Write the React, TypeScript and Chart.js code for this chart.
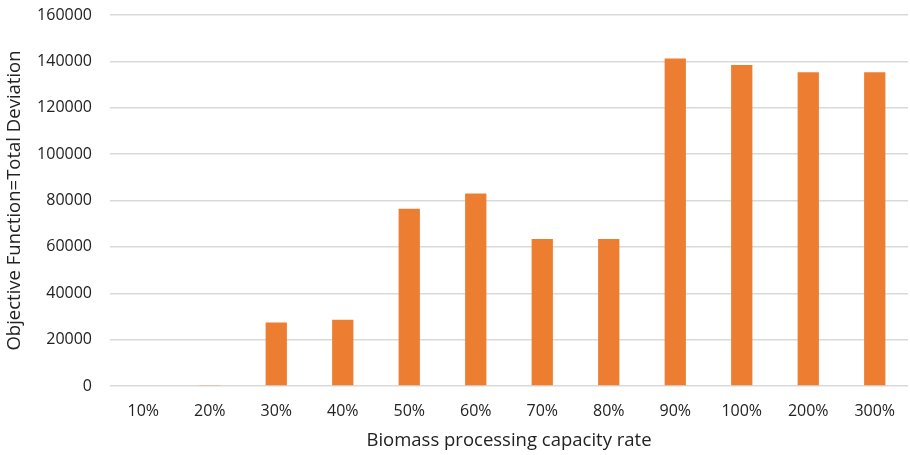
import React, { useEffect, useRef } from "react";
import { Chart, registerables } from "chart.js";

Chart.register(...registerables);

const categories = ["10%", "20%", "30%", "40%", "50%", "60%", "70%", "80%", "90%", "100%", "200%", "300%"];
const values = [0, 400, 27400, 28600, 76400, 83000, 63400, 63400, 141200, 138400, 135300, 135300];
const yTicks = [0, 20000, 40000, 60000, 80000, 100000, 120000, 140000, 160000];

export default function App() {
  const ref = useRef<HTMLCanvasElement | null>(null);
  useEffect(() => {
    document.body.style.margin = "0";
    const ctx = ref.current!;
    const chart = new Chart(ctx, {
      type: "bar",
      data: {
        labels: categories,
        datasets: [
          {
            data: values,
            backgroundColor: "#ED7D31",
            borderWidth: 0,
            barPercentage: 0.32,
            categoryPercentage: 1,
          },
        ],
      },
      options: {
        animation: false,
        responsive: false,
        layout: { padding: { top: 0, right: 2, left: 2, bottom: 1 } },
        plugins: { legend: { display: false }, tooltip: { enabled: false } },
        scales: {
          x: {
            grid: { display: false, drawTicks: false },
            border: { display: false },
            ticks: { color: "#222", font: { family: "Open Sans", size: 16 }, padding: 16 },
            title: {
              display: true,
              text: "Biomass processing capacity rate",
              color: "#222",
              font: { family: "Open Sans", size: 18.5 },
              padding: { top: 8, bottom: 2 },
            },
            afterFit: (axis: any) => {
              axis.height = 68;
              axis.paddingLeft = 0;
              axis.paddingRight = 0;
            },
          },
          y: {
            min: 0,
            max: 160000,
            afterBuildTicks: (axis: any) => {
              axis.ticks = yTicks.map((v) => ({ value: v }));
            },
            grid: { color: "#d9d9d9", lineWidth: 1.5, drawTicks: false },
            border: { display: false },
            ticks: {
              color: "#222",
              font: { family: "Open Sans", size: 16 },
              padding: 18,
              callback: (v: any) => String(v),
            },
            title: {
              display: true,
              text: "Objective Function=Total Deviation",
              color: "#222",
              font: { family: "Open Sans", size: 18.5 },
              padding: { top: 2, bottom: 6 },
            },
            afterFit: (axis: any) => {
              axis.width = 108;
              axis.paddingTop = 15;
              axis.paddingBottom = 0;
            },
          },
        },
      },
    });
    return () => chart.destroy();
  }, []);
  return <canvas ref={ref} width={910} height={455} style={{ display: "block" }} />;
}
